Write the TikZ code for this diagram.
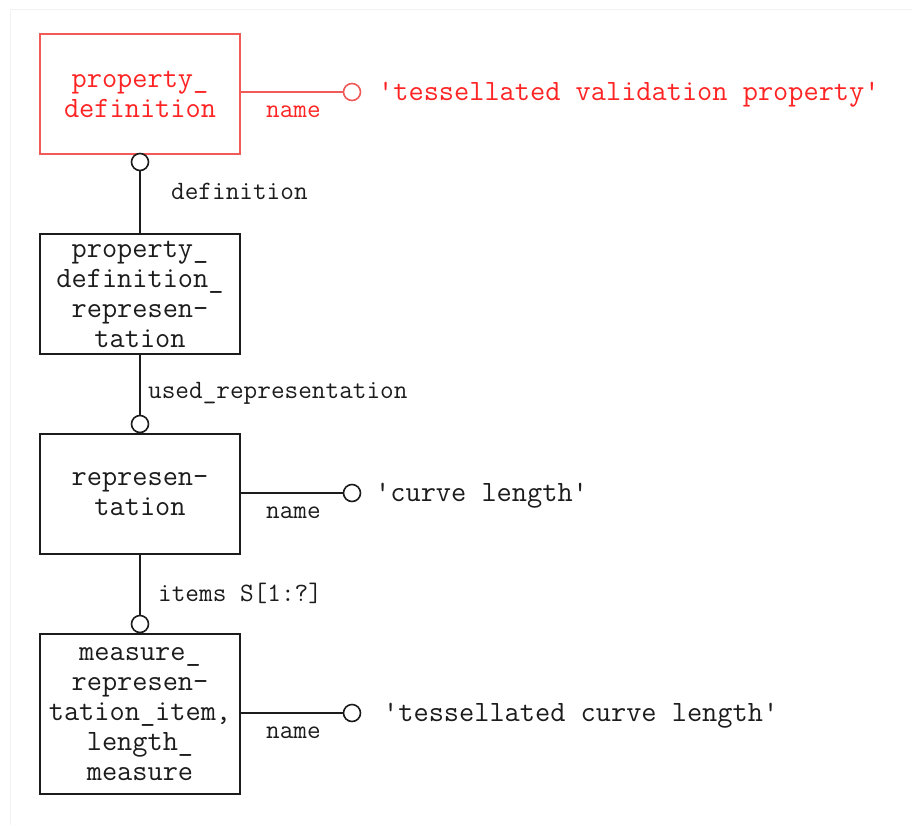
\documentclass[tikz,border=0pt]{standalone}
\usepackage{fontspec}
\definecolor{ered}{HTML}{FF2424}
\definecolor{eredline}{HTML}{F25A5A}
\definecolor{eink}{HTML}{1C1C1C}
\definecolor{eframe}{HTML}{F2F2F2}

\tikzset{
  entity/.style={draw=eink, line width=1.6pt, minimum width=200pt, minimum height=120pt,
    inner sep=0pt, align=center, text=eink, font=\ttfamily\fontsize{29.5}{30}\selectfont},
  redentity/.style={entity, draw=eredline, text=ered},
  tall/.style={minimum height=160pt},
  ring/.style={circle, draw=eink, line width=1.6pt, fill=white, minimum size=17pt, inner sep=0pt},
  redring/.style={ring, draw=eredline},
  link/.style={draw=eink, line width=1.6pt},
  redlink/.style={link, draw=eredline},
  role/.style={inner sep=0pt, text=eink, font=\ttfamily\fontsize{26.5}{28}\selectfont},
  redrole/.style={role, text=ered},
  value/.style={anchor=west, inner sep=0pt, text=eink, font=\ttfamily\fontsize{29.5}{30}\selectfont},
  redvalue/.style={value, text=ered},
}

\begin{document}
\begin{tikzpicture}[x=1pt, y=-1pt]
  \useasboundingbox (0,0) rectangle (912,825);
  % light page frame
  \draw[eframe, line width=1pt] (10,825) -- (10,9) -- (912,9);

  % entities
  \node[redentity] (pd) at (140,94) {property\_\\definition};
  \node[entity] (pdr) at (140,294) {property\_\\definition\_\\represen-\\tation};
  \node[entity] (rep) at (140,494) {represen-\\tation};
  \node[entity, tall] (mri) at (140,714) {measure\_\\represen-\\tation\_item,\\length\_\\measure};

  % relationship rings
  \node[ring] (pdo) at (140,162) {};
  \node[ring] (repo) at (140,424) {};
  \node[ring] (mrio) at (140,624) {};
  \node[redring] (pdn) at (352,92) {};
  \node[ring] (repn) at (352,493) {};
  \node[ring] (mrin) at (352,713) {};

  % connectors
  \draw[link] (pdo) -- (pdr);
  \draw[link] (pdr) -- (repo);
  \draw[link] (rep) -- (mrio);
  \draw[redlink] (pd.east |- pdn) -- (pdn);
  \draw[link] (rep.east |- repn) -- (repn);
  \draw[link] (mri.east |- mrin) -- (mrin);

  % role names
  \node[role, anchor=west] (l1) at (171,191) {definition};
  \node[role, anchor=west] (l2) at (148,393) {used\_representation};
  \node[role, anchor=west] (l3) at (158,593) {items S[1:?]};
  \node[redrole, anchor=west] (l4) at (266,112) {name};
  \node[role, anchor=west] (l5) at (266,513) {name};
  \node[role, anchor=west] (l6) at (266,733) {name};

  % attribute values
  \node[redvalue] (v1) at (378,95) {'tessellated validation property'};
  \node[value] (v2) at (375,496) {'curve length'};
  \node[value] (v3) at (383,716) {'tessellated curve length'};
\end{tikzpicture}
\end{document}
